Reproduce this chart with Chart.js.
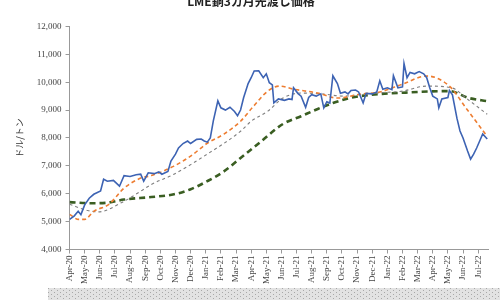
<!DOCTYPE html>
<html>
<head>
<meta charset="utf-8">
<script src="https://cdn.jsdelivr.net/npm/chart.js@4.4.1/dist/chart.umd.min.js"></script>
<style>
  html, body { margin: 0; padding: 0; background: #fff; }
  #wrap { width: 500px; height: 300px; position: relative; }
</style>
</head>
<body>
<div id="wrap"><canvas id="myChart"></canvas></div>
<script>
// month index 0 = Apr-20
const monthLabels = ['Apr-20','May-20','Jun-20','Jul-20','Aug-20','Sep-20','Oct-20','Nov-20','Dec-20',
  'Jan-21','Feb-21','Mar-21','Apr-21','May-21','Jun-21','Jul-21','Aug-21','Sep-21','Oct-21','Nov-21','Dec-21',
  'Jan-22','Feb-22','Mar-22','Apr-22','May-22','Jun-22','Jul-22'];

// LME copper 3-month price (USD/t)
const priceMonth = [0, 0.3, 0.57, 0.75, 1.0, 1.3, 1.6, 2.05, 2.25, 2.5, 2.9, 3.3, 3.6, 4.0, 4.4, 4.7, 4.9, 5.2, 5.6, 5.9,
  6.1, 6.5, 6.7, 7.0, 7.2, 7.5, 7.8, 8.0, 8.4, 8.7, 8.9, 9.1, 9.3, 9.5, 9.8, 10.0, 10.3, 10.6, 10.9, 11.1,
  11.3, 11.5, 11.8, 12.0, 12.2, 12.5, 12.8, 13.0, 13.2, 13.4, 13.5, 13.8, 14.2, 14.5, 14.7, 14.8, 15.1, 15.3, 15.6, 15.8,
  16.0, 16.3, 16.6, 16.8, 17.0, 17.2, 17.4, 17.7, 17.9, 18.2, 18.4, 18.6, 18.9, 19.1, 19.4, 19.6, 20.0, 20.3, 20.5, 20.7,
  21.0, 21.3, 21.4, 21.7, 22.0, 22.1, 22.3, 22.5, 22.8, 23.1, 23.4, 23.6, 23.8, 24.0, 24.3, 24.4, 24.6, 25.0, 25.1, 25.3,
  25.6, 25.8, 26.0, 26.3, 26.5, 26.7, 26.9, 27.1, 27.3, 27.6];
const priceValue = [5080, 5200, 5370, 5250, 5600, 5840, 5980, 6100, 6520, 6450, 6480, 6270, 6650, 6620, 6680, 6700, 6450, 6750, 6720, 6780,
  6700, 6800, 7170, 7420, 7640, 7800, 7890, 7800, 7950, 7960, 7890, 7850, 8000, 8610, 9330, 9080, 9000, 9100, 8950, 8800,
  9000, 9440, 9950, 10160, 10400, 10410, 10160, 10300, 9980, 9900, 9260, 9400, 9350, 9400, 9380, 9800, 9590, 9500, 9100, 9450,
  9550, 9500, 9580, 9080, 9300, 9250, 10230, 9950, 9600, 9650, 9580, 9700, 9720, 9650, 9260, 9600, 9580, 9650, 10050, 9750,
  9800, 9730, 10230, 9800, 9830, 10670, 10160, 10350, 10300, 10380, 10300, 10160, 9800, 9500, 9400, 9080, 9400, 9450, 9700, 9550,
  8700, 8250, 8000, 7530, 7240, 7420, 7640, 7890, 8140, 7960];

// short moving average (orange)
const fastMonth = [0, 0.6, 1.0, 1.6, 2.6, 3.6, 4.7, 5.4, 6.9, 8.0, 9.1, 10.2, 11.3, 12.1, 13.1, 13.9, 14.8, 16.4, 17.7, 19.2, 20.5, 22.0, 23.6, 25.1, 26.2, 27.6];
const fastValue = [5260, 5080, 5080, 5370, 5620, 6200, 6560, 6650, 6990, 7350, 7810, 8140, 8600, 9100, 9680, 9860, 9750, 9610, 9430, 9570, 9650, 9930, 10220, 9860, 9070, 8050];

// medium moving average (gray)
const midMonth = [0, 1.2, 1.9, 3.6, 4.7, 5.4, 6.9, 9.1, 11.3, 12.0, 13.1, 14.1, 15.3, 16.8, 18.1, 19.4, 20.5, 22.0, 23.6, 25.3, 26.2, 27.6];
const midValue = [5620, 5400, 5350, 5730, 6090, 6330, 6700, 7420, 8240, 8600, 8960, 9430, 9610, 9570, 9500, 9570, 9620, 9680, 9860, 9790, 9430, 8850];

// long moving average (green)
const slowMonth = [0, 1.5, 2.5, 3.6, 5.4, 6.9, 8.0, 9.1, 10.2, 11.3, 12.6, 14.1, 15.3, 16.4, 17.4, 18.5, 19.8, 22.0, 25.1, 26.4, 27.6];
const slowValue = [5700, 5660, 5680, 5790, 5880, 5980, 6160, 6450, 6800, 7280, 7850, 8500, 8780, 9040, 9250, 9430, 9540, 9620, 9680, 9430, 9320];

const toPoints = (xs, ys) => xs.map((x, i) => ({ x: x, y: ys[i] }));

// dotted gray strip under the chart
const bandPlugin = {
    id: 'band',
    afterDraw(chart) {
        const ctx = chart.ctx;
        const p = document.createElement('canvas');
        p.width = 6; p.height = 4;
        const pc = p.getContext('2d');
        pc.fillStyle = '#e2e2e2';
        pc.fillRect(0, 0, 6, 4);
        pc.fillStyle = '#a8a8a8';
        pc.fillRect(0, 0, 1, 1);
        pc.fillRect(3, 2, 1, 1);
        ctx.save();
        ctx.fillStyle = ctx.createPattern(p, 'repeat');
        ctx.fillRect(48, 288, 452, 12);
        ctx.restore();
    }
};

const ctx = document.getElementById('myChart').getContext('2d');
const myChart = new Chart(ctx, {
    type: 'line',
    data: {
        datasets: [
            {
                label: 'price',
                data: toPoints(priceMonth, priceValue),
                borderColor: '#3d63b3',
                borderWidth: 1.6,
                pointRadius: 0,
                tension: 0
            },
            {
                label: 'fast',
                data: toPoints(fastMonth, fastValue),
                borderColor: '#ed7d31',
                borderWidth: 1.6,
                borderDash: [4, 3],
                pointRadius: 0,
                cubicInterpolationMode: 'monotone'
            },
            {
                label: 'mid',
                data: toPoints(midMonth, midValue),
                borderColor: '#7f7f7f',
                borderWidth: 1.1,
                borderDash: [3, 3],
                pointRadius: 0,
                cubicInterpolationMode: 'monotone'
            },
            {
                label: 'slow',
                data: toPoints(slowMonth, slowValue),
                borderColor: '#3a5e22',
                borderWidth: 2.6,
                borderDash: [6, 4],
                pointRadius: 0,
                cubicInterpolationMode: 'monotone'
            }
        ]
    },
    options: {
        responsive: true,
        maintainAspectRatio: false,
        animation: false,
        layout: { padding: { left: 14, right: 12, top: 0, bottom: 14 } },
        plugins: {
            legend: { display: false },
            tooltip: { enabled: false },
            title: {
                display: true,
                text: 'LME銅3カ月先渡し価格',
                color: '#222',
                font: { family: "'Noto Sans CJK JP', sans-serif", size: 12, weight: 'bold' },
                padding: { top: -6, bottom: 18 }
            }
        },
        scales: {
            x: {
                type: 'linear',
                min: 0,
                max: 27.65,
                afterBuildTicks: axis => {
                    axis.ticks = monthLabels.map((l, i) => ({ value: i }));
                },
                ticks: {
                    autoSkip: false,
                    minRotation: 90,
                    maxRotation: 90,
                    color: '#444',
                    font: { family: "'Liberation Serif', serif", size: 9 },
                    padding: 2,
                    callback: value => monthLabels[value] || ''
                },
                grid: { drawOnChartArea: false, tickLength: 4, color: '#999' },
                border: { color: '#999' }
            },
            y: {
                min: 4000,
                max: 12000,
                ticks: {
                    stepSize: 1000,
                    color: '#444',
                    font: { family: "'Liberation Serif', serif", size: 9 },
                    padding: 4,
                    callback: value => value.toLocaleString('en-US')
                },
                grid: { drawOnChartArea: false, tickLength: 4, color: '#999' },
                border: { color: '#999' },
                title: {
                    display: true,
                    text: 'ドル/トン',
                    color: '#333',
                    font: { family: "'Noto Sans CJK JP', sans-serif", size: 9 },
                    padding: { top: 0, bottom: 8 }
                }
            }
        }
    },
    plugins: [bandPlugin]
});
</script>
</body>
</html>
